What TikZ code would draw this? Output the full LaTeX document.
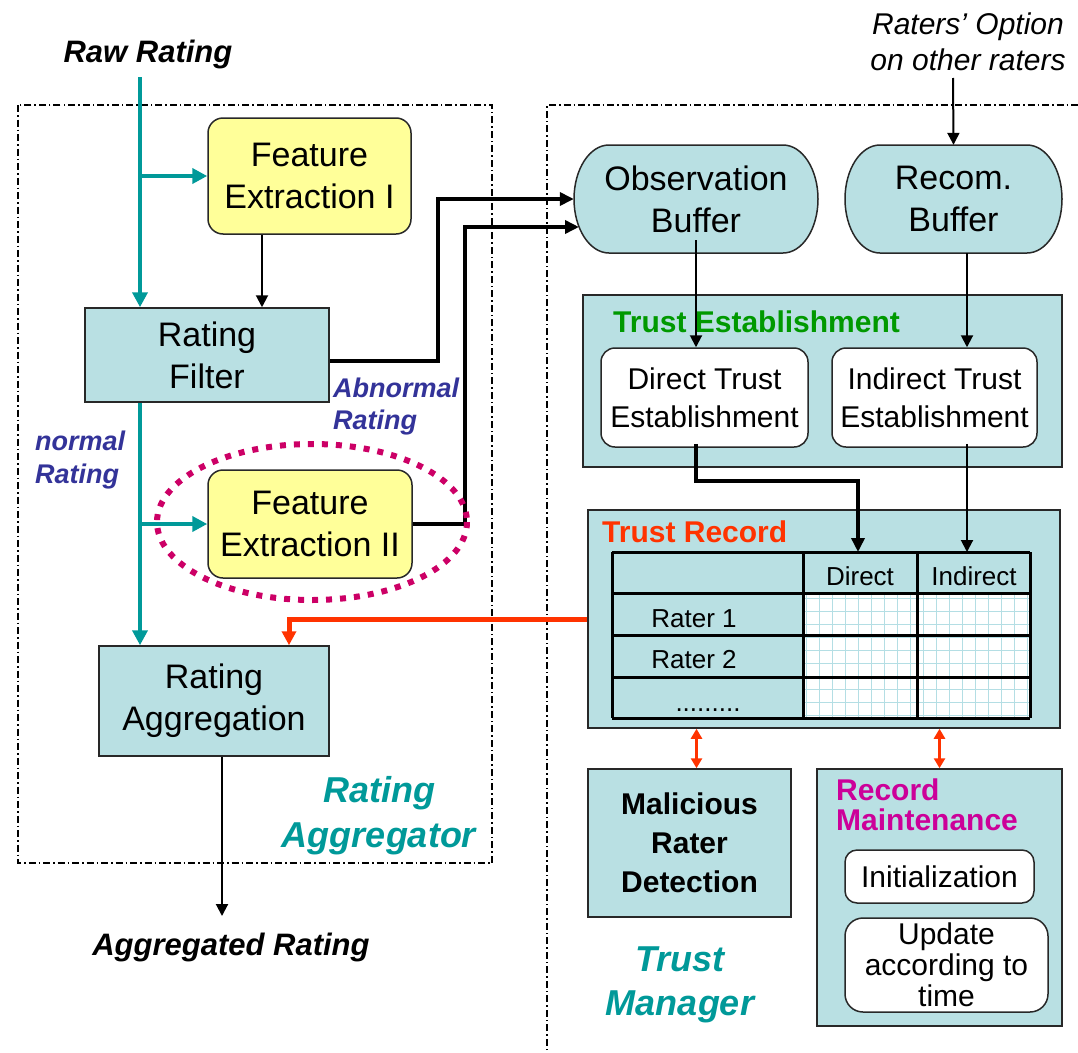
\documentclass[tikz,border=0pt]{standalone}
\usepackage{fontspec}
\setmainfont{Liberation Sans}
\usetikzlibrary{arrows.meta,calc}

\definecolor{boxfill}{RGB}{185,224,227}
\definecolor{yel}{RGB}{255,255,153}
\definecolor{tealc}{RGB}{0,153,153}
\definecolor{greenc}{RGB}{0,153,0}
\definecolor{redc}{RGB}{255,51,0}
\definecolor{magc}{RGB}{204,0,153}
\definecolor{ellc}{RGB}{204,0,102}
\definecolor{bluec}{RGB}{51,51,153}
\definecolor{gridc}{RGB}{180,222,228}
\definecolor{edgec}{RGB}{40,40,40}

\newcommand{\myfs}[2]{\fontsize{#1}{#2}\selectfont}

\begin{document}
\begin{tikzpicture}[x=1pt,y=-1pt,
  box/.style={draw=edgec, line width=1.5pt, fill=boxfill, inner sep=0pt, align=center, font=\myfs{34}{42}},
  ybox/.style={box, fill=yel, rounded corners=15pt},
  wbox/.style={box, fill=white, rounded corners=14pt, font=\myfs{30}{38}},
  lbl/.style={inner sep=0pt, align=center},
  bufst/.style={draw=edgec, line width=1.5pt, fill=boxfill},
  dashbox/.style={draw=black, line width=1.2pt, dash pattern=on 7pt off 3pt on 1.5pt off 3pt},
  tarrow/.style={draw=tealc, line width=4.5pt, -{Triangle[length=15pt,width=15pt]}},
  barrow/.style={draw=black, line width=2pt, -{Triangle[length=12pt,width=12pt]}},
  bkarrow/.style={draw=black, line width=4pt, -{Triangle[length=14pt,width=13pt]}},
  rarrow/.style={draw=redc, line width=5pt, -{Triangle[length=14pt,width=14pt]}},
  rdarrow/.style={draw=redc, line width=3pt, {Triangle[length=10pt,width=11pt]}-{Triangle[length=10pt,width=11pt]}},
  tblline/.style={draw=black, line width=3pt},
]
\useasboundingbox (0,0) rectangle (1078,1052);
\clip (0,0) rectangle (1078,1052);

% dash-dot frames
\draw[dashbox] (18,105) rectangle (492,863);
\draw[dashbox] (547,1060) -- (547,105) -- (1090,105);

% ---------- left part ----------
\node[lbl, font=\bfseries\itshape\myfs{31}{36}, anchor=base] (raw) at (148,62) {Raw Rating};
\node[ybox, minimum width=203pt, minimum height=116pt] (fe1) at (309.5,176) {Feature\\Extraction I};
\node[box, minimum width=244pt, minimum height=94pt] (filter) at (207,355) {Rating\\Filter};
\node[ybox, minimum width=204pt, minimum height=108pt] (fe2) at (310,524) {Feature\\Extraction II};
\node[box, minimum width=230pt, minimum height=110pt] (agg) at (214,701) {Rating\\Aggregation};
\node[lbl, font=\bfseries\itshape\myfs{31}{36}, anchor=base] (aggout) at (231,955) {Aggregated Rating};

\node[lbl, align=left, anchor=north west, text=bluec, font=\bfseries\itshape\myfs{27}{32}] (abn) at (333,378) {Abnormal\\Rating};
\node[lbl, align=left, anchor=north west, text=bluec, font=\bfseries\itshape\myfs{27}{33}] (nor) at (35,431) {normal\\Rating};
\node[lbl, anchor=north, text=tealc, font=\bfseries\itshape\myfs{36}{45}] (ragg) at (379,776) {Rating\\Aggregator};

% ---------- right part ----------
\node[lbl, anchor=north, font=\itshape\myfs{30}{36}] (raters) at (968,13) {Raters’ Option\\on other raters};

\filldraw[bufst] (609,145) -- (783,145) arc[start angle=-90,end angle=90,x radius=35,y radius=54] -- (609,253) arc[start angle=90,end angle=270,x radius=35,y radius=54] -- cycle;
\filldraw[bufst] (880,145) -- (1027,145) arc[start angle=-90,end angle=90,x radius=35,y radius=54] -- (880,253) arc[start angle=90,end angle=270,x radius=35,y radius=54] -- cycle;
\node[lbl, font=\myfs{34}{42}, minimum width=244pt, minimum height=108pt] (obs) at (696,199) {Observation\\Buffer};
\node[lbl, font=\myfs{34}{42}, minimum width=217pt, minimum height=108pt] (recom) at (953.5,199) {Recom.\\Buffer};

\node[box, minimum width=479pt, minimum height=172pt] (test) at (822.5,381) {};
\node[lbl, anchor=base west, text=greenc, font=\bfseries\myfs{30}{36}] (testlbl) at (613,332) {Trust Establishment};
\node[wbox, minimum width=207pt, minimum height=99pt] (direct) at (704.5,397.5) {Direct Trust\\Establishment};
\node[wbox, minimum width=205pt, minimum height=99pt] (indirect) at (934.5,397.5) {Indirect Trust\\Establishment};

\node[box, minimum width=472pt, minimum height=218pt] (trec) at (824,619) {};
\node[lbl, anchor=base west, text=redc, font=\bfseries\myfs{30}{36}] (treclbl) at (602,542) {Trust Record};

% table
\coordinate (tnw) at (612,552);
\fill[white] (803,593) rectangle (1030,718);
\draw[gridc, line width=1pt] (803,593) grid[xstep=13pt, ystep=13pt] (1030,718);
\foreach \yy in {552,593,635,677,718} { \draw[tblline] (612,\yy) -- (1030,\yy); }
\foreach \xx in {612,803,917,1030} { \draw[tblline] (\xx,552) -- (\xx,718); }
\node[lbl, anchor=base, font=\myfs{26}{30}] (hdir) at (860,585) {Direct};
\node[lbl, anchor=base, font=\myfs{26}{30}] (hind) at (974,585) {Indirect};
\node[lbl, anchor=base, font=\myfs{26}{30}] (r1) at (694,627) {Rater 1};
\node[lbl, anchor=base, font=\myfs{26}{30}] (r2) at (694,668) {Rater 2};
\node[lbl, anchor=base, font=\myfs{26}{30}] (r3) at (708,711) {.........};

\node[box, minimum width=203pt, minimum height=148pt, font=\bfseries\myfs{30}{39}] (mal) at (689.5,843) {Malicious\\Rater\\Detection};
\node[lbl, anchor=north, text=tealc, font=\bfseries\itshape\myfs{36}{44}] (tman) at (680,947) {Trust\\Manager};

\node[box, minimum width=245pt, minimum height=257pt] (rmaint) at (939.5,897.5) {};
\node[lbl, align=left, anchor=north west, text=magc, font=\bfseries\myfs{30}{30}] (rmlbl) at (836,779) {Record\\Maintenance};
\node[wbox, minimum width=189pt, minimum height=53pt, rounded corners=12pt] (init) at (939.5,876.5) {Initialization};
\node[wbox, minimum width=203pt, minimum height=94pt, rounded corners=18pt, font=\myfs{30}{31}] (upd) at (946.5,965) {Update\\according to\\time};

% ---------- connectors ----------
\coordinate (rawtop) at (140,77);
\draw[tarrow] (rawtop) -- (rawtop |- filter.north);
\draw[tarrow] (rawtop |- fe1.west) -- (fe1.west);
\draw[barrow] ([xshift=-47.5pt]fe1.south) -- ([xshift=-47.5pt]fe1.south |- filter.north);
\draw[tarrow] (filter.south -| rawtop) -- (agg.north -| rawtop);
\draw[tarrow] (fe2.west -| rawtop) -- (fe2.west);

\coordinate (bend1) at (438,199);
\draw[bkarrow] ([yshift=-6pt]filter.east) -| (bend1) -- (obs.west);
\coordinate (bend2) at (465,227);
\coordinate (obsin2) at (579,227);
\draw[bkarrow] (fe2.east) -| (bend2) -- (obsin2);

\coordinate (aggend) at (222,916);
\draw[barrow] ([xshift=8pt]agg.south) -- (aggend);

\draw[rarrow] (trec.west) -| ([xshift=75pt]agg.north);

\coordinate (raterstop) at (953,78);
\draw[barrow] (raterstop) -- (recom.north);
\draw[barrow] ([yshift=13pt]obs.south) -- (obs.south |- direct.north);
\draw[barrow] ([xshift=13.5pt]recom.south) -- ([xshift=13.5pt]recom.south |- indirect.north);

\coordinate (dirbend) at (858,481);
\coordinate (dircol) at (858,552);
\draw[bkarrow] ([yshift=4pt]direct.south -| obs.south) |- (dirbend) -- (dircol);
\draw[barrow] ([xshift=32.5pt,yshift=4pt]indirect.south) -- ([xshift=32.5pt]indirect.south |- tnw);

\draw[rdarrow] ([xshift=7pt]mal.north |- trec.south) -- ([xshift=7pt]mal.north);
\draw[rdarrow] (rmaint.north |- trec.south) -- (rmaint.north);

% highlight ellipse
\draw[ellc, line width=6pt, dash pattern=on 6pt off 8pt] (312,522) ellipse [x radius=155, y radius=78];
\end{tikzpicture}
\end{document}
